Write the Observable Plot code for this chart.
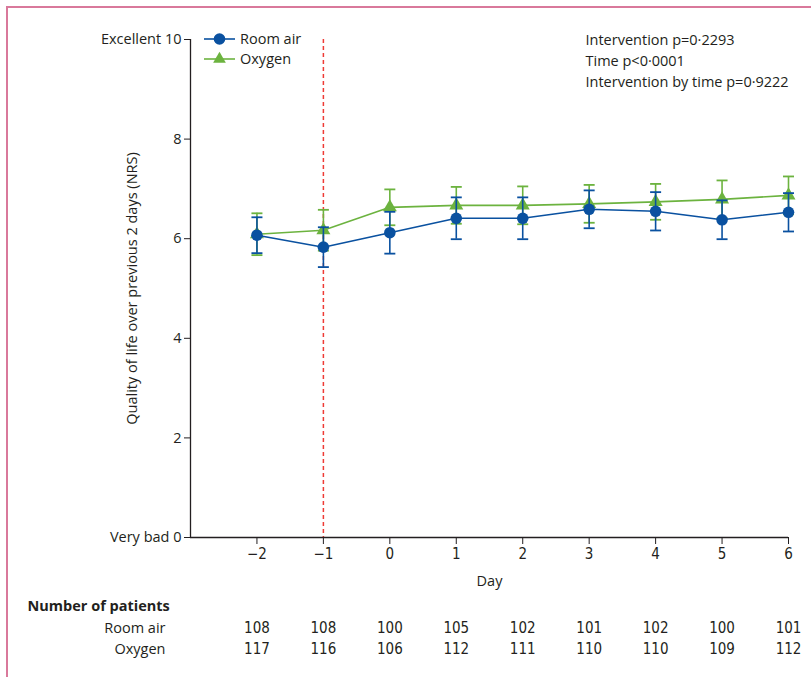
<!DOCTYPE html>
<html>
<head>
<meta charset="utf-8">
<script src="https://cdn.jsdelivr.net/npm/d3@7"></script>
<script src="https://cdn.jsdelivr.net/npm/@observablehq/plot@0.6"></script>
<style>
  html, body { margin: 0; padding: 0; background: #fff; }
  #wrap { position: relative; width: 811px; height: 677px; overflow: hidden; font-family: "Open Sans", Lato, sans-serif; color: #231f20; }
  #frame { position: absolute; left: 6px; top: 6px; width: 820px; height: 700px; border-left: 2px solid #d9799b; border-top: 2px solid #d9799b; }
  #chart { position: absolute; left: 0; top: 0; }
  #legend { position: absolute; left: 204px; top: 29px; font-size: 14.5px; line-height: 20px; }
  #legend div { display: flex; align-items: center; }
  #legend svg { margin-right: 5px; }
  .num text { font-family: "Liberation Sans Narrow", "DejaVu Sans Condensed", "Roboto Condensed", "Open Sans", sans-serif; }
</style>
</head>
<body>
<div id="wrap">
  <div id="frame"></div>
  <div id="chart"></div>
  <div id="legend"></div>
</div>
<script>
// ---- data ----
const days = [-2, -1, 0, 1, 2, 3, 4, 5, 6];
const roomAirMean = [6.07, 5.83, 6.12, 6.41, 6.41, 6.59, 6.55, 6.38, 6.53];
const roomAirErr  = [0.36, 0.40, 0.42, 0.42, 0.42, 0.38, 0.385, 0.39, 0.385];
const oxygenMean  = [6.09, 6.17, 6.63, 6.67, 6.67, 6.70, 6.74, 6.79, 6.87];
const oxygenErr   = [0.42, 0.41, 0.36, 0.37, 0.38, 0.38, 0.36, 0.38, 0.38];
const roomAirN = [108, 108, 100, 105, 102, 101, 102, 100, 101];
const oxygenN  = [117, 116, 106, 112, 111, 110, 110, 109, 112];
const yTicks = [0, 2, 4, 6, 8, 10];
const yTickLabels = ["Very bad 0", "2", "4", "6", "8", "Excellent 10"];
const seriesNames = ["Room air", "Oxygen"];
const stats = ["Intervention p=0·2293", "Time p<0·0001", "Intervention by time p=0·9222"];
const yLabel = "Quality of life over previous 2 days (NRS)";
const xLabel = "Day";
const tableTitle = "Number of patients";

const BLUE = "#0a51a0";
const GREEN = "#6cb33f";
const TEXT = "#231f20";

const build = (means, errs, ns, name) => days.map((d, i) => ({
  day: d, series: name, mean: means[i], lo: means[i] - errs[i], hi: means[i] + errs[i], n: ns[i]
}));
const roomAir = build(roomAirMean, roomAirErr, roomAirN, seriesNames[0]);
const oxygen = build(oxygenMean, oxygenErr, oxygenN, seriesNames[1]);

const cap = { draw(ctx) { ctx.moveTo(-5.5, 0); ctx.lineTo(5.5, 0); } };

const seriesMarks = (data, color, symbol, r) => [
  Plot.line(data, { x: "day", y: "mean", stroke: color, strokeWidth: 1.6 }),
  Plot.ruleX(data, { x: "day", y1: "lo", y2: "hi", stroke: color, strokeWidth: 1.6 }),
  Plot.dot(data, { x: "day", y: "lo", symbol: cap, stroke: color, strokeWidth: 1.8, r: 1 }),
  Plot.dot(data, { x: "day", y: "hi", symbol: cap, stroke: color, strokeWidth: 1.8, r: 1 }),
  Plot.dot(data, { x: "day", y: "mean", symbol, fill: color, stroke: "none", r })
];

const chart = Plot.plot({
  width: 811,
  height: 677,
  marginLeft: 190,
  marginRight: 23,
  marginTop: 39,
  marginBottom: 140,
  style: { fontFamily: "'Open Sans', Lato, sans-serif", fontSize: "14.5px", color: TEXT, background: "transparent" },
  x: { domain: [-3, 6] },
  y: { domain: [0, 10] },
  marks: [
    Plot.ruleX([-1], { stroke: "#ee3b36", strokeWidth: 1.5, strokeDasharray: "4,3" }),
    Plot.axisY({ ticks: yTicks, tickFormat: d => yTickLabels[yTicks.indexOf(d)], tickSize: 6, tickPadding: 3, label: null, fontSize: 14.5, stroke: TEXT }),
    Plot.axisX({ ticks: days, tickSize: 7, tickPadding: 4, label: null, fontSize: 15, stroke: TEXT, className: "num" }),
    Plot.ruleY([0], { stroke: TEXT, strokeWidth: 1.3 }),
    Plot.ruleX([-3], { stroke: TEXT, strokeWidth: 1.3 }),
    ...seriesMarks(oxygen, GREEN, "triangle", 5.2),
    ...seriesMarks(roomAir, BLUE, "circle", 5.8),
    Plot.text([yLabel], { frameAnchor: "left", textAnchor: "middle", dx: -58, rotate: -90, fontSize: 14.5, fill: TEXT }),
    Plot.text([xLabel], { frameAnchor: "bottom", textAnchor: "middle", dy: 48, fontSize: 14.5, fill: TEXT }),
    Plot.text([stats.join("\n")], { frameAnchor: "top-right", textAnchor: "start", lineAnchor: "top", dx: -203, dy: -9, lineHeight: 1.45, fontSize: 14.5, fill: TEXT }),
    Plot.text([tableTitle], { frameAnchor: "bottom-left", textAnchor: "start", dx: -163, dy: 73, fontSize: 14.5, fontWeight: "bold", fill: TEXT }),
    Plot.text([seriesNames[0]], { frameAnchor: "bottom-left", textAnchor: "end", dx: -25, dy: 95, fontSize: 14.5, fill: TEXT }),
    Plot.text([seriesNames[1]], { frameAnchor: "bottom-left", textAnchor: "end", dx: -25, dy: 116, fontSize: 14.5, fill: TEXT }),
    Plot.text(roomAir, { x: "day", text: d => String(d.n), frameAnchor: "bottom", textAnchor: "middle", dy: 95, fontSize: 15, fill: TEXT, className: "num" }),
    Plot.text(oxygen, { x: "day", text: d => String(d.n), frameAnchor: "bottom", textAnchor: "middle", dy: 116, fontSize: 15, fill: TEXT, className: "num" })
  ]
});
document.getElementById("chart").appendChild(chart);

// legend
const legend = d3.select("#legend");
[[seriesNames[0], BLUE, d3.symbolCircle, 105], [seriesNames[1], GREEN, d3.symbolTriangle, 70]].forEach(([name, color, sym, size]) => {
  const row = legend.append("div");
  const svg = row.append("svg").attr("width", 31).attr("height", 20);
  svg.append("line").attr("x1", 0).attr("x2", 31).attr("y1", 10).attr("y2", 10).attr("stroke", color).attr("stroke-width", 1.6);
  svg.append("path").attr("d", d3.symbol(sym, size)()).attr("transform", "translate(15.5,10)").attr("fill", color);
  row.append("span").text(name);
});
</script>
</body>
</html>
